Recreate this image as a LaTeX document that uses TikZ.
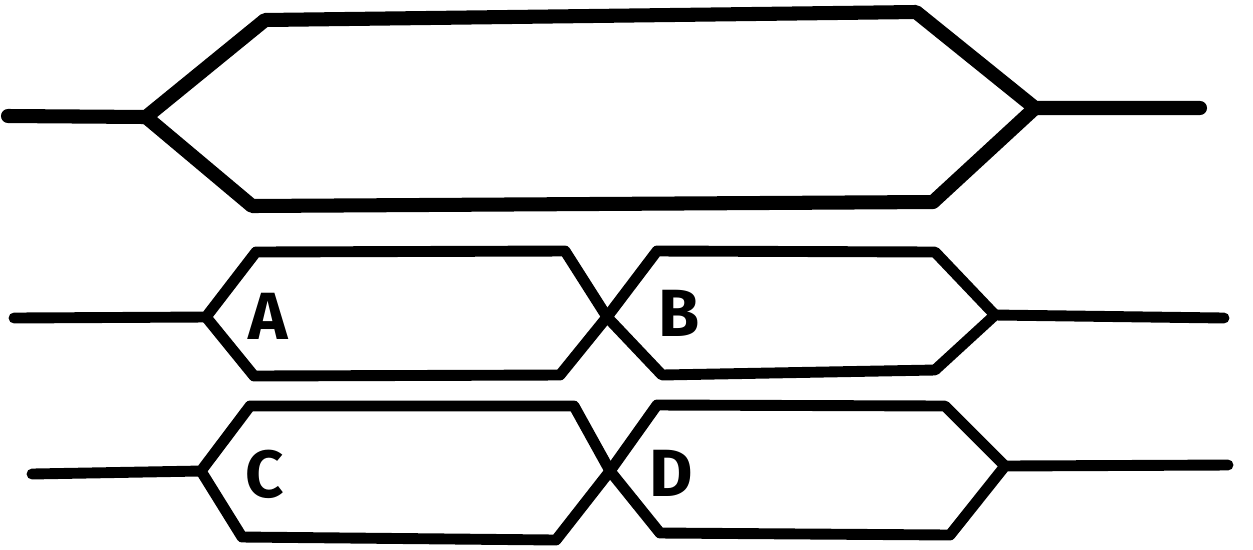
\documentclass[tikz,border=0pt]{standalone}
\usepackage{fontspec}
\setmainfont{Fira Sans}
\begin{document}
\begin{tikzpicture}[x=0.02cm,y=-0.02cm,
  bigline/.style={line width=8pt,line cap=round,line join=round},
  smline/.style={line width=6.2pt,line cap=round,line join=round},
  lbl/.style={font=\fontsize{38}{40}\selectfont\bfseries,inner sep=0pt}]
\useasboundingbox (0,0) rectangle (1253,549);
% top bus
\coordinate (t0) at (8,116);
\coordinate (tl) at (146,117);
\coordinate (ttl) at (265,20);
\coordinate (ttr) at (916,12);
\coordinate (tr) at (1035,108);
\coordinate (t1) at (1200,108);
\coordinate (tbr) at (933,202);
\coordinate (tbl) at (252,206);
\draw[bigline] (t0) -- (tl) -- (ttl) -- (ttr) -- (tr) -- (t1);
\draw[bigline] (tl) -- (tbl) -- (tbr) -- (tr);
% row A/B
\coordinate (a0) at (14,318);
\coordinate (al) at (206,317);
\coordinate (atl) at (256,252);
\coordinate (atr) at (565,251);
\coordinate (x1) at (607,317);
\coordinate (abr) at (560,375);
\coordinate (abl) at (254,376);
\coordinate (btl) at (657,251);
\coordinate (btr) at (935,252);
\coordinate (br) at (995,315);
\coordinate (b1) at (1224,318);
\coordinate (bbr) at (935,370);
\coordinate (bbl) at (662,375);
\draw[smline] (a0) -- (al) -- (atl) -- (atr) -- (x1) -- (bbl) -- (bbr) -- (br) -- (b1);
\draw[smline] (al) -- (abl) -- (abr) -- (x1) -- (btl) -- (btr) -- (br);
% row C/D
\coordinate (c0) at (32,474);
\coordinate (cl) at (201,471);
\coordinate (ctl) at (250,406);
\coordinate (ctr) at (574,406);
\coordinate (x2) at (610,471);
\coordinate (cbr) at (556,540);
\coordinate (cbl) at (242,537);
\coordinate (dtl) at (657,405);
\coordinate (dtr) at (945,406);
\coordinate (dr) at (1005,466);
\coordinate (d1) at (1228,465);
\coordinate (dbr) at (950,535);
\coordinate (dbl) at (660,533);
\draw[smline] (c0) -- (cl) -- (ctl) -- (ctr) -- (x2) -- (dbl) -- (dbr) -- (dr) -- (d1);
\draw[smline] (cl) -- (cbl) -- (cbr) -- (x2) -- (dtl) -- (dtr) -- (dr);
% labels
\node[lbl] (A) at (268,316) {A};
\node[lbl] (B) at (679,313) {B};
\node[lbl] (C) at (265,474) {C};
\node[lbl] (D) at (671,473) {D};
\end{tikzpicture}
\end{document}
